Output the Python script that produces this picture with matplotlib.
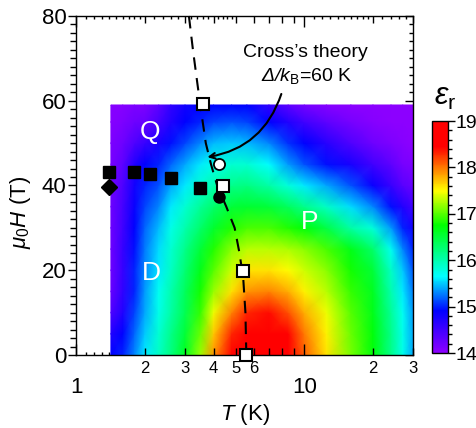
import numpy as np
import matplotlib
matplotlib.use('Agg')
import matplotlib.pyplot as plt
from matplotlib.colors import LinearSegmentedColormap
from matplotlib.ticker import FixedLocator, FixedFormatter, MultipleLocator, NullLocator

plt.rcParams['font.family'] = 'Liberation Sans'
plt.rcParams['mathtext.fontset'] = 'custom'
plt.rcParams['mathtext.rm'] = 'Liberation Sans'
plt.rcParams['mathtext.it'] = 'Liberation Sans:italic'
plt.rcParams['mathtext.sf'] = 'Liberation Sans:italic'

# Map grid: temperature (K), field (T), eps_r
temps = [1.42, 1.6, 1.8, 2.0, 2.3, 2.6, 3.0, 3.5, 4.0, 4.8, 5.6, 7.0,
         8.5, 10, 12.5, 16, 20, 24, 27, 30]
fields = [0, 5, 10, 15, 20, 25, 30, 35, 40, 45, 50, 55, 59]
# one row per temperature column (H from 0 to 59)
eps_cols = [
    [14.9, 14.7, 14.4, 14.25, 14.2, 14.2, 14.2, 14.2, 14.2, 14.15, 14.1, 14.05, 14.05],
    [15.0, 14.9, 14.7, 14.6, 14.55, 14.55, 14.5, 14.45, 14.4, 14.3, 14.2, 14.1, 14.05],
    [15.3, 15.2, 15.1, 15.0, 15.0, 14.95, 14.9, 14.85, 14.8, 14.7, 14.4, 14.2, 14.1],
    [15.6, 15.5, 15.4, 15.35, 15.3, 15.25, 15.2, 15.1, 15.0, 14.9, 14.55, 14.25, 14.1],
    [15.9, 15.85, 15.75, 15.7, 15.6, 15.55, 15.45, 15.3, 15.15, 15.0, 14.75, 14.45, 14.3],
    [16.2, 16.15, 16.05, 16.0, 15.9, 15.85, 15.75, 15.6, 15.4, 15.2, 14.95, 14.7, 14.6],
    [16.6, 16.5, 16.4, 16.35, 16.25, 16.15, 16.0, 15.85, 15.6, 15.4, 15.1, 14.9, 14.8],
    [17.2, 17.05, 16.9, 16.8, 16.65, 16.5, 16.3, 16.1, 15.85, 15.6, 15.3, 15.0, 14.9],
    [17.9, 17.7, 17.45, 17.2, 17.0, 16.85, 16.55, 16.3, 16.0, 15.75, 15.45, 15.1, 14.9],
    [18.5, 18.3, 17.95, 17.6, 17.35, 17.15, 16.85, 16.5, 16.15, 15.85, 15.5, 15.15, 14.9],
    [18.85, 18.65, 18.3, 17.9, 17.6, 17.3, 16.95, 16.55, 16.2, 15.85, 15.45, 15.1, 14.9],
    [18.9, 18.75, 18.4, 17.95, 17.6, 17.3, 16.95, 16.5, 16.05, 15.65, 15.3, 14.9, 14.6],
    [18.6, 18.45, 18.15, 17.8, 17.5, 17.25, 16.85, 16.35, 15.8, 15.35, 15.05, 14.7, 14.3],
    [18.1, 18.0, 17.8, 17.55, 17.35, 17.15, 16.7, 16.15, 15.6, 15.15, 14.9, 14.5, 14.15],
    [17.6, 17.55, 17.45, 17.3, 17.15, 16.95, 16.45, 15.9, 15.4, 14.95, 14.65, 14.3, 14.05],
    [17.1, 17.05, 17.0, 16.9, 16.8, 16.65, 16.05, 15.55, 15.15, 14.75, 14.4, 14.15, 14.0],
    [16.7, 16.7, 16.65, 16.6, 16.5, 16.3, 15.8, 15.3, 14.85, 14.5, 14.2, 14.05, 14.0],
    [16.15, 16.15, 16.1, 16.0, 15.9, 15.7, 15.35, 14.95, 14.55, 14.3, 14.1, 14.0, 14.0],
    [15.75, 15.75, 15.7, 15.6, 15.5, 15.3, 15.0, 14.7, 14.35, 14.15, 14.05, 14.0, 14.0],
    [15.4, 15.4, 15.35, 15.25, 15.15, 15.0, 14.8, 14.5, 14.25, 14.1, 14.0, 14.0, 14.0],
]

# Cross's theory line
cross_T = [3.12, 3.25, 3.40, 3.52, 3.70, 3.90, 4.15, 4.55, 4.95, 5.20, 5.40, 5.52, 5.57]
cross_H = [80, 72, 64, 58, 50, 45, 40, 35, 30, 24, 18, 10, 0]

# markers
open_sq_T = [3.61, 4.40, 5.40, 5.57]
open_sq_H = [59.2, 39.9, 19.8, 0]
open_circ_T = [4.21]
open_circ_H = [45.0]
fill_circ_T = [4.21]
fill_circ_H = [37.4]
fill_sq_T = [1.395, 1.79, 2.10, 2.60, 3.50]
fill_sq_H = [43.3, 43.3, 42.6, 41.7, 39.3]
diamond_T = [1.395]
diamond_H = [39.6]

cmap = LinearSegmentedColormap.from_list('eps', [
    (0.0, (0.55, 0.0, 1.0)),
    (0.18, (0.0, 0.0, 1.0)),
    (0.33, (0.0, 1.0, 1.0)),
    (0.55, (0.0, 1.0, 0.0)),
    (0.70, (1.0, 1.0, 0.0)),
    (0.89, (1.0, 0.0, 0.0)),
    (1.0, (1.0, 0.0, 0.0)),
])

fig = plt.figure(figsize=(4.76, 4.28), dpi=100)
ax = fig.add_axes([0.160, 0.1706, 0.708, 0.792])

eps = np.array(eps_cols).T
mesh = ax.pcolormesh(temps, fields, eps, shading='gouraud', cmap=cmap,
                     vmin=14, vmax=19, zorder=1)

ax.plot(cross_T, cross_H, 'k--', lw=1.5, dashes=(6, 4), zorder=3, clip_on=False)
ax.plot(fill_sq_T, fill_sq_H, 's', color='k', ms=8.5, zorder=4)
ax.plot(diamond_T, diamond_H, 'D', color='k', ms=8, zorder=4)
ax.plot(fill_circ_T, fill_circ_H, 'o', color='k', ms=8, zorder=4)
ax.plot(open_circ_T, open_circ_H, 'o', mfc='white', mec='k', mew=1.3, ms=8, zorder=4)
ax.plot(open_sq_T, open_sq_H, 's', mfc='white', mec='k', mew=1.5, ms=8.5,
        zorder=5, clip_on=False)

ax.text(2.11, 52.6, 'Q', color='white', fontsize=19, ha='center', va='center')
ax.text(2.13, 19.4, 'D', color='white', fontsize=19, ha='center', va='center')
ax.text(10.5, 31.4, 'P', color='white', fontsize=19, ha='center', va='center')

ax.text(10.15, 71.5, 'Cross\u2019s theory', fontsize=14, ha='center', va='center')
ax.text(10.3, 65.8, r'$\mathsf{\Delta/k}_\mathrm{B}$=60 K', fontsize=14,
        ha='center', va='center')
ax.annotate('', xy=(3.76, 46.7), xytext=(7.93, 61.6),
            arrowprops=dict(arrowstyle='->', connectionstyle='arc3,rad=-0.3',
                            lw=1.5, shrinkA=0, shrinkB=0), zorder=6)

ax.set_xscale('log')
ax.set_xlim(1, 30)
ax.set_ylim(0, 80)

# x ticks
ax.xaxis.set_major_locator(FixedLocator([1, 10]))
ax.xaxis.set_major_formatter(FixedFormatter(['1', '10']))
ax.xaxis.set_minor_locator(FixedLocator([2, 3, 4, 5, 6, 7, 8, 9, 20, 30]))
ax.xaxis.set_minor_formatter(FixedFormatter(['2', '3', '4', '5', '6', '', '', '', '2', '3']))
ax.tick_params(axis='x', which='both', direction='in', top=True)
ax.tick_params(axis='x', which='major', length=8, width=1, pad=16, labelsize=16)
ax.tick_params(axis='x', which='minor', length=5, width=1, pad=4, labelsize=12)

fine = [1.1, 1.2, 1.3, 1.4, 1.5, 1.6, 1.7, 1.8, 1.9, 2.2, 2.4, 2.6, 2.8,
        3.2, 3.4, 3.6, 3.8, 4.2, 4.4, 4.6, 4.8, 11, 12, 13, 14, 15, 16, 17,
        18, 19, 22, 24, 26, 28]
for loc in ['bottom', 'top']:
    sec = ax.secondary_xaxis(loc)
    sec.set_xticks(fine)
    sec.xaxis.set_minor_locator(NullLocator())
    sec.tick_params(direction='in', length=2.5, width=1, labelbottom=False,
                    labeltop=False)
    for s in sec.spines.values():
        s.set_visible(False)

# y ticks
ax.yaxis.set_major_locator(MultipleLocator(20))
ax.yaxis.set_minor_locator(MultipleLocator(2))
ax.tick_params(axis='y', which='both', direction='out', right=False)
ax.tick_params(axis='y', which='major', length=6, width=1, pad=1, labelsize=16)
ax.tick_params(axis='y', which='minor', length=4, width=1)
secy = ax.secondary_yaxis('right')
secy.yaxis.set_major_locator(MultipleLocator(20))
secy.yaxis.set_minor_locator(MultipleLocator(2))
secy.tick_params(which='both', direction='in', labelright=False)
secy.tick_params(which='major', length=6, width=1)
secy.tick_params(which='minor', length=3, width=1)
for s in secy.spines.values():
    s.set_visible(False)

for s in ax.spines.values():
    s.set_linewidth(1)

ax.set_xlabel(r'$T$ (K)', fontsize=16)
ax.xaxis.set_label_coords(0.5, -0.14)
ax.set_ylabel(r'$\mu_0H$ (T)', fontsize=16)
ax.yaxis.set_label_coords(-0.128, 0.42)

cax = fig.add_axes([0.9076, 0.1752, 0.0336, 0.542])
cb = fig.colorbar(mesh, cax=cax, ticks=[14, 15, 16, 17, 18, 19])
cb.ax.yaxis.set_minor_locator(MultipleLocator(0.2))
cb.ax.tick_params(which='major', length=5, width=1, labelsize=14, pad=0.5)
cb.ax.tick_params(which='minor', length=3, width=1)
cb.outline.set_linewidth(1)
fig.text(445 / 476, 1 - 97 / 428, r'$\varepsilon_\mathrm{r}$', fontsize=22,
         ha='center', va='center')

plt.savefig('out.png', dpi=100)
